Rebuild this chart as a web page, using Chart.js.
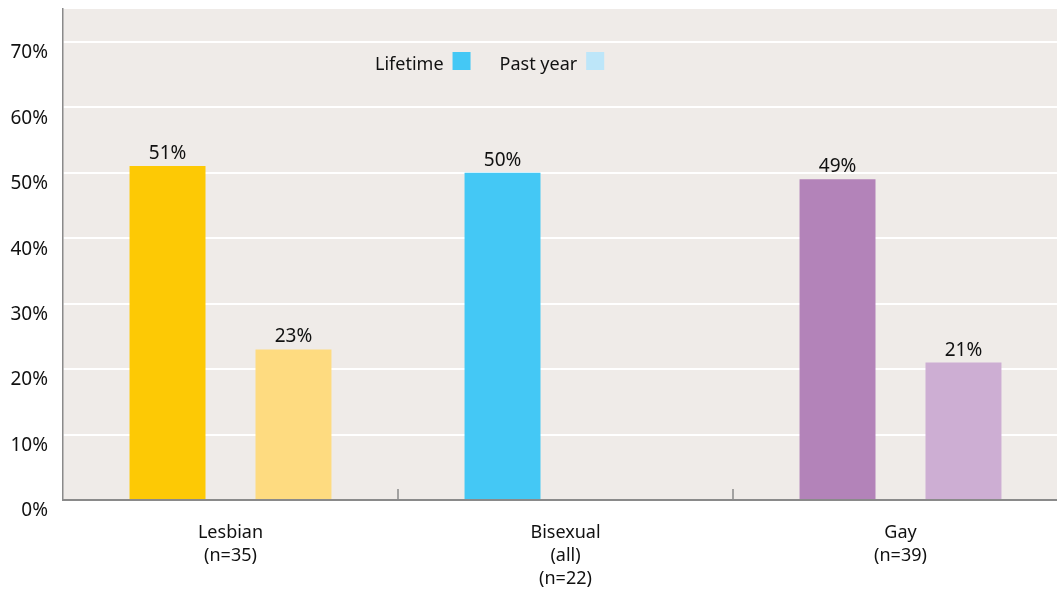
<!DOCTYPE html>
<html>
<head>
<meta charset="utf-8">
<script src="https://cdn.jsdelivr.net/npm/chart.js@4"></script>
<style>
  html, body { margin: 0; padding: 0; background: #fff; overflow: hidden; }
  #wrap { width: 1070px; height: 598px; }
</style>
</head>
<body>
<div id="wrap"><canvas id="chart"></canvas></div>
<script>
// data
const categories = [["Lesbian", "(n=35)"], ["Bisexual", "(all)", "(n=22)"], ["Gay", "(n=39)"]];
const lifetime = [51, 50, 49];
const pastYear = [23, null, 21];
const seriesNames = ["Lifetime", "Past year"];
const yTicks = [0, 10, 20, 30, 40, 50, 60, 70];

const lifetimeColors = ["#fdc905", "#44c8f5", "#b383b9"];
const pastYearColors = ["#fedb80", "#bde6f9", "#cdaed3"];
const legendColors = ["#44c8f5", "#bde6f9"];
const FONT = "'Noto Sans', Lato, sans-serif";

const plotBg = {
    id: "plotBg",
    beforeDraw(c) {
        const a = c.chartArea, ctx = c.ctx;
        ctx.save();
        ctx.fillStyle = "#efebe8";
        ctx.fillRect(a.left, a.top, a.right - a.left, a.bottom - a.top);
        ctx.restore();
    }
};

// little tick marks between categories + value labels + legend
const extras = {
    id: "extras",
    afterDatasetsDraw(c) {
        const ctx = c.ctx, a = c.chartArea, x = c.scales.x;
        ctx.save();
        ctx.strokeStyle = "#8a8a8a";
        ctx.lineWidth = 1.5;
        for (let i = 0; i < categories.length - 1; i++) {
            const px = (x.getPixelForValue(i) + x.getPixelForValue(i + 1)) / 2;
            ctx.beginPath();
            ctx.moveTo(px, a.bottom);
            ctx.lineTo(px, a.bottom - 11);
            ctx.stroke();
        }

        ctx.fillStyle = "#111";
        ctx.font = "19px " + FONT;
        ctx.textAlign = "center";
        ctx.textBaseline = "alphabetic";
        c.data.datasets.forEach((ds, di) => {
            c.getDatasetMeta(di).data.forEach((bar, i) => {
                if (ds.data[i] == null) return;
                ctx.fillText(ds.data[i] + "%", bar.x, bar.y - 7);
            });
        });

        // legend: label then box
        ctx.font = "18px " + FONT;
        ctx.textAlign = "left";
        let lx = 375;
        const ly = 70;
        seriesNames.forEach((name, i) => {
            ctx.fillStyle = "#111";
            ctx.fillText(name, lx, ly);
            const w = ctx.measureText(name).width;
            ctx.fillStyle = legendColors[i];
            ctx.fillRect(lx + w + 9, ly - 18, 18, 18);
            lx += w + 9 + 18 + 29;
        });
        ctx.restore();
    }
};

new Chart(document.getElementById("chart"), {
    type: "bar",
    data: {
        labels: categories,
        datasets: [
            { label: seriesNames[0], data: lifetime, backgroundColor: lifetimeColors },
            { label: seriesNames[1], data: pastYear, backgroundColor: pastYearColors }
        ]
    },
    options: {
        responsive: true,
        maintainAspectRatio: false,
        animation: false,
        events: [],
        categoryPercentage: 0.752,
        barPercentage: 0.603,
        layout: { padding: { top: 9, right: 2, left: 0, bottom: 0 } },
        plugins: { legend: { display: false }, tooltip: { enabled: false } },
        scales: {
            x: {
                grid: { display: false, drawTicks: false },
                border: { display: true, color: "#8a8a8a", width: 2 },
                ticks: { color: "#111", font: { family: FONT, size: 18, lineHeight: 1.28 }, padding: 21, maxRotation: 0, autoSkip: false },
                afterFit(s) { s.height = 98; s.paddingLeft = 0; s.paddingRight = 0; }
            },
            y: {
                min: 0,
                max: 75,
                afterBuildTicks(s) { s.ticks = yTicks.map(v => ({ value: v })); },
                grid: { color: ctx => ctx.tick && ctx.tick.value === 0 ? "rgba(0,0,0,0)" : "#ffffff", lineWidth: 2, drawTicks: false },
                border: { display: true, color: "#8a8a8a", width: 1.5 },
                ticks: { color: "#111", font: { family: FONT, size: 19 }, padding: 15, labelOffset: 11, callback: v => v + "%" },
                afterFit(s) { s.width = 63; s.paddingTop = 0; s.paddingBottom = 0; }
            }
        }
    },
    plugins: [plotBg, extras]
});
</script>
</body>
</html>
